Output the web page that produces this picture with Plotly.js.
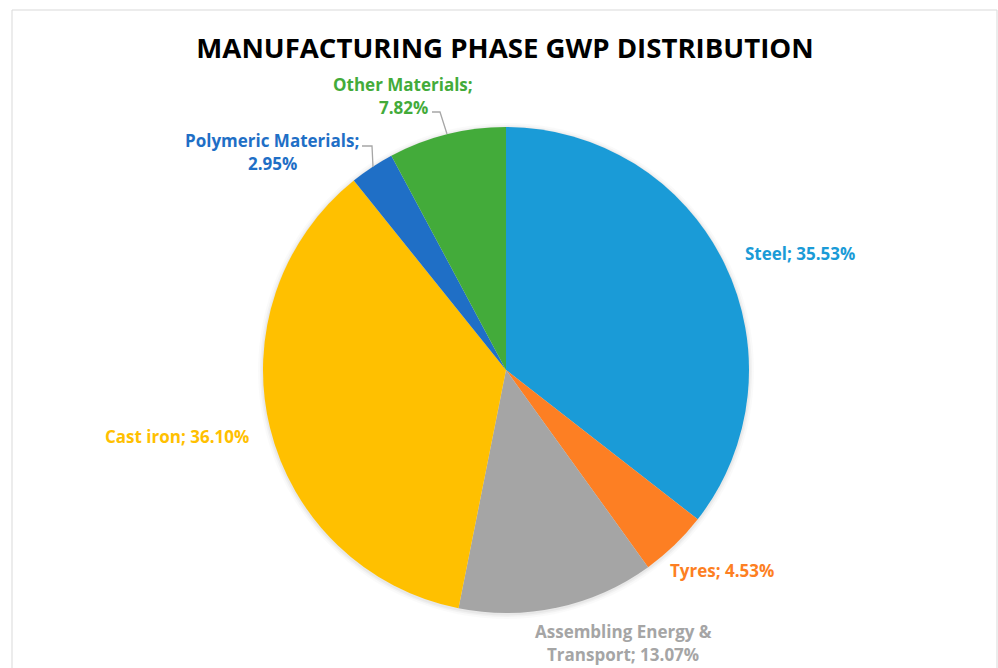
<!DOCTYPE html>
<html>
<head>
<meta charset="utf-8">
<script src="https://cdn.plot.ly/plotly-3.0.1.min.js"></script>
<style>html,body{margin:0;padding:0;background:#fff;}#chart{width:998px;height:668px;}</style>
</head>
<body>
<div id="chart"></div>
<script>
const categories = ["Steel", "Tyres", "Assembling Energy & Transport", "Cast iron", "Polymeric Materials", "Other Materials"];
const values = [35.53, 4.53, 13.07, 36.10, 2.95, 7.82];
const colors = ["#1a9bd7", "#fd7f23", "#a5a5a5", "#ffc000", "#1f6fc6", "#43ab3a"];
const labelLines = [["Steel; 35.53%"], ["Tyres; 4.53%"], ["Assembling Energy &", "Transport; 13.07%"], ["Cast iron; 36.10%"], ["Polymeric Materials;", "2.95%"], ["Other Materials;", "7.82%"]];

const W = 998, H = 668;
const px = x => x / W;
const py = y => 1 - y / H;
const cx = 506, cy = 370, R = 243;

// label anchor positions (pixels, centre of label block)
const labelPos = [[800, 254], [722, 570], [623, 643], [177, 436], [272, 152], [403, 96]];
const lineGap = 23;

const annotations = [];
labelLines.forEach((lines, i) => {
  const n = lines.length;
  lines.forEach((t, j) => {
    const y = labelPos[i][1] + (j - (n - 1) / 2) * lineGap;
    annotations.push({
      xref: "paper", yref: "paper",
      x: px(labelPos[i][0]), y: py(y),
      text: t, showarrow: false,
      xanchor: "center", yanchor: "middle", align: "center",
      font: {family: "Open Sans, sans-serif", size: 17, color: colors[i], weight: "bold"}
    });
  });
});

const leader = (pts) => ({
  type: "path", xref: "paper", yref: "paper",
  path: "M" + pts.map(p => px(p[0]) + "," + py(p[1])).join(" L"),
  line: {color: "#a6a6a6", width: 1.3}
});

const shadow = (d, a) => ({
  type: "circle", xref: "paper", yref: "paper", layer: "below",
  x0: px(cx - R - d), x1: px(cx + R + d), y0: py(cy + R + d + 1), y1: py(cy - R - d + 1),
  line: {width: 0}, fillcolor: "rgba(0,0,0," + a + ")"
});

const shapes = [
  {type: "rect", xref: "paper", yref: "paper", x0: px(12), x1: px(997), y0: py(700), y1: py(10),
   line: {color: "#d9d9d9", width: 1}, fillcolor: "rgba(0,0,0,0)", layer: "below"},
  shadow(5, 0.02), shadow(3, 0.03), shadow(1.5, 0.04),
  leader([[432, 112], [440, 112], [447, 134]]),
  leader([[362, 146], [372, 146], [373, 167]])
];

const data = [{
  type: "pie",
  labels: categories,
  values: values,
  sort: false,
  direction: "clockwise",
  rotation: 0,
  textinfo: "none",
  hoverinfo: "label+percent",
  marker: {colors: colors, line: {width: 0}},
  domain: {x: [px(cx - R), px(cx + R)], y: [py(cy + R), py(cy - R)]},
  showlegend: false
}];

const layout = {
  width: W, height: H,
  margin: {l: 0, r: 0, t: 0, b: 0},
  paper_bgcolor: "#fff",
  title: {text: "<b>MANUFACTURING PHASE GWP DISTRIBUTION</b>", x: px(505), xanchor: "center", y: py(48), yanchor: "middle",
    font: {family: "Open Sans, sans-serif", size: 27.6, color: "#000"}},
  annotations: annotations,
  shapes: shapes,
  showlegend: false
};

Plotly.newPlot("chart", data, layout, {displayModeBar: false, staticPlot: true});
</script>
</body>
</html>
